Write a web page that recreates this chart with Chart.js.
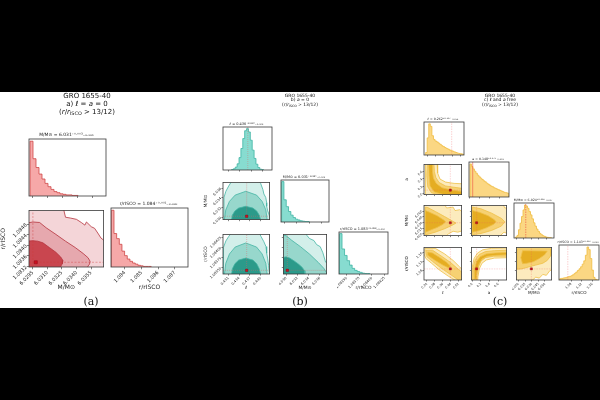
<!DOCTYPE html>
<html><head><meta charset="utf-8">
<script src="https://cdn.jsdelivr.net/npm/chart.js@4.4.1/dist/chart.umd.min.js"></script>
<style>
html,body{margin:0;padding:0;background:#000;}
body{position:relative;width:600px;height:400px;overflow:hidden;}
#paper{position:absolute;left:0;top:92px;width:600px;height:216px;background:#fff;}
canvas{position:absolute;}
.t,.cap{-webkit-font-smoothing:antialiased;filter:grayscale(1);}
.t{position:absolute;font-family:'DejaVu Sans',sans-serif;color:#111;white-space:nowrap;transform:translateX(-50%);line-height:1;}
.cap{position:absolute;font-family:'DejaVu Serif',serif;color:#111;white-space:nowrap;transform:translateX(-50%);line-height:1;font-size:11px;}
sub{font-size:70%;vertical-align:-0.2em;line-height:0;}
</style></head>
<body>
<div id="paper"></div>
<div class="t" style="left:87px;top:93px;font-size:7px">GRO 1655-40</div>
<div class="t" style="left:87px;top:101px;font-size:7px">a) <i>ℓ</i> = <i>a</i> = 0</div>
<div class="t" style="left:87px;top:109px;font-size:7px">(<i>r</i>/<i>r</i><sub>ISCO</sub> &gt; 13/12)</div>
<div class="t" style="left:300px;top:93.5px;font-size:4.5px">GRO 1655-40</div>
<div class="t" style="left:300px;top:98px;font-size:4.5px">b) <i>a</i> = 0</div>
<div class="t" style="left:300px;top:102.5px;font-size:4.5px">(<i>r</i>/<i>r</i><sub>ISCO</sub> &gt; 13/12)</div>
<div class="t" style="left:500px;top:93.5px;font-size:4.5px">GRO 1655-40</div>
<div class="t" style="left:500px;top:98px;font-size:4.5px">c) <i>ℓ</i> and <i>a</i> free</div>
<div class="t" style="left:500px;top:102.5px;font-size:4.5px">(<i>r</i>/<i>r</i><sub>ISCO</sub> &gt; 13/12)</div>
<div class="cap" style="left:91px;top:296px">(a)</div>
<div class="cap" style="left:300px;top:296px">(b)</div>
<div class="cap" style="left:500px;top:296px">(c)</div>
<script>
// ================= DATA =================
// ---- Panel (a): l = a = 0 ----
const aM_range = [6.0291, 6.0368];
const aR_range = [1.08318, 1.08533];
const aRh_range = [1.08316, 1.0878];
const aM_ticks = [6.0295, 6.0310, 6.0325, 6.0340, 6.0355];
const aR_ticks = [1.0832, 1.0836, 1.0840, 1.0844, 1.0848];
const aRh_ticks = [1.084, 1.085, 1.086, 1.087];
const aM_binStart = 6.0292, aM_binWidth = 0.0003;
const aM_counts = [100, 68, 52, 40, 31, 23, 17, 12, 8, 6, 4, 3, 2, 2, 1, 1];
const aR_binStart = 1.08318, aR_binWidth = 0.00016;
const aR_counts = [100, 59, 50, 40, 28, 20, 14, 10, 7, 5, 3, 2, 1, 1, 1];
const aMR_outer = [[6.0327,1.0855],[6.0327,1.08533],[6.03287,1.08507],[6.03337,1.08504],[6.0340,1.08499],[6.0345,1.08487],[6.03487,1.08477],[6.03503,1.08489],[6.03553,1.08471],[6.03587,1.08465],[6.0362,1.08447],[6.03653,1.08428],[6.0368,1.0842],[6.0372,1.0842],[6.0372,1.0830],[6.0288,1.0830],[6.0288,1.0855]];
const aMR_mid = [[6.0289,1.08485],[6.0295,1.08489],[6.0302,1.08487],[6.03087,1.08467],[6.03187,1.08442],[6.03287,1.08416],[6.03387,1.08392],[6.0347,1.08369],[6.0352,1.08353],[6.0354,1.0834],[6.03535,1.08329],[6.0352,1.08322],[6.0350,1.0830],[6.0289,1.0830]];
const aMR_inner = [[6.0289,1.08416],[6.0295,1.08418],[6.0300,1.08416],[6.03053,1.0841],[6.0312,1.08392],[6.03187,1.08374],[6.03237,1.08356],[6.0326,1.08343],[6.03255,1.08331],[6.0324,1.08322],[6.0322,1.0830],[6.0289,1.0830]];
const aTruth = [6.0295, 1.08336];
const aBest = [6.0298, 1.08336];

// ---- Panel (b): a = 0 ----
const bL_range = [0.4295, 0.4425];
const bM_range = [6.0295, 6.0372];
const bR_range = [1.08335, 1.08432];
const bL_ticks = [0.431, 0.434, 0.437, 0.440];
const bM_ticks = [6.030, 6.032, 6.034, 6.036];
const bR_ticks = [1.0835, 1.08375, 1.0840, 1.08425];
const bL_binStart = 0.43175, bL_binWidth = 0.0005;
const bL_counts = [1, 3, 7, 15, 30, 52, 76, 95, 100, 92, 72, 48, 28, 14, 6, 2, 1];
const bM_binStart = 6.0296, bM_binWidth = 0.00037;
const bM_counts = [100, 55, 38, 26, 17, 11, 7, 5, 3, 2, 1, 1];
const bR_binStart = 1.08336, bR_binWidth = 0.00005;
const bR_counts = [100, 62, 46, 33, 22, 14, 9, 6, 4, 2, 1, 1];
const bLM_outer = [[0.42977,6.0289],[0.42977,6.03408],[0.4303,6.03536],[0.43109,6.03645],[0.43189,6.0374],[0.43957,6.0374],[0.4400,6.037],[0.44063,6.03572],[0.4409,6.03481],[0.44143,6.03408],[0.44169,6.03298],[0.44169,6.03225],[0.44196,6.03133],[0.44241,6.03042],[0.4427,6.0295],[0.4427,6.0289]];
const bLM_mid = [[0.44182,6.0295],[0.44145,6.0315],[0.44042,6.03327],[0.43886,6.03457],[0.43586,6.03536],[0.43289,6.03457],[0.4313,6.03327],[0.43027,6.0315],[0.4299,6.0295],[0.4299,6.0289],[0.44182,6.0289]];
const bLM_inner = [[0.4400,6.0295],[0.4396,6.03043],[0.43891,6.03126],[0.43785,6.03188],[0.43586,6.03225],[0.43387,6.03188],[0.43281,6.03126],[0.43212,6.03043],[0.43189,6.0295],[0.43189,6.0289],[0.4400,6.0289]];
const bLR_outer = [[0.42963,1.08328],[0.42963,1.084],[0.4303,1.08416],[0.43109,1.08427],[0.43189,1.08436],[0.43957,1.08436],[0.4401,1.08427],[0.4409,1.08414],[0.4415,1.08402],[0.44169,1.08386],[0.44196,1.08372],[0.44222,1.08356],[0.44241,1.0834],[0.4427,1.08335],[0.4427,1.08328]];
const bLR_mid = [[0.44182,1.08335],[0.44145,1.08361],[0.44042,1.08384],[0.43886,1.08401],[0.43586,1.08411],[0.43289,1.08401],[0.4313,1.08384],[0.43027,1.08361],[0.4299,1.08335],[0.4299,1.08328],[0.44182,1.08328]];
const bLR_inner = [[0.4400,1.08335],[0.4396,1.08348],[0.43891,1.0836],[0.43785,1.08369],[0.43586,1.08374],[0.43387,1.08369],[0.43281,1.0836],[0.43212,1.08348],[0.43189,1.08335],[0.43189,1.08328],[0.4400,1.08328]];
const bMR_outer = [[6.0335,1.0844],[6.03366,1.0843],[6.03414,1.08422],[6.03494,1.08417],[6.03542,1.08407],[6.03606,1.08402],[6.03654,1.08387],[6.03702,1.08364],[6.0375,1.08363],[6.0375,1.08328],[6.0291,1.08328],[6.0291,1.0844]];
const bMR_mid = [[6.02918,1.0843],[6.02998,1.08429],[6.03094,1.08418],[6.03254,1.08402],[6.03414,1.08384],[6.03574,1.08363],[6.0367,1.08349],[6.0371,1.0834],[6.0374,1.08335],[6.0374,1.08328],[6.02918,1.08328]];
const bMR_inner = [[6.02918,1.08375],[6.02998,1.08377],[6.03062,1.08374],[6.03142,1.08367],[6.03222,1.08359],[6.03286,1.08351],[6.03326,1.08343],[6.03334,1.08335],[6.03334,1.08328],[6.02918,1.08328]];
const bTruth = [0.4361, 6.0302, 1.08344];

// ---- Panel (c): l and a free ----
const cL_range = [0.17, 0.55];
const cA_range = [-0.02, 0.79];
const cM_range = [5.995, 6.075];
const cR_range = [1.035, 1.185];
const cL_ticks = [0.20, 0.28, 0.36, 0.44, 0.52];
const cA_ticks = [0.0, 0.2, 0.4, 0.6];
const cM_ticks = [6.000, 6.015, 6.030, 6.045, 6.060];
const cR_ticks = [1.08, 1.12, 1.16];
const cL_binStart = 0.185, cL_binWidth = 0.015;
const cL_counts = [8, 55, 100, 92, 62, 50, 45, 42, 38, 34, 30, 27, 24, 21, 19, 16, 14, 12, 10, 8, 6, 5, 4, 3];
const cA_binStart = 0.0, cA_binWidth = 0.03;
const cA_counts = [100, 92, 85, 78, 72, 66, 61, 57, 53, 49, 46, 42, 39, 36, 33, 31, 28, 26, 24, 22, 20, 18, 16, 14, 13, 12];
const cM_binStart = 5.998, cM_binWidth = 0.003;
const cM_counts = [3, 8, 25, 45, 65, 85, 100, 97, 90, 80, 70, 58, 46, 36, 27, 20, 14, 10, 7, 5, 3, 2, 1, 1];
const cR_binStart = 1.038, cR_binWidth = 0.006;
const cR_counts = [4, 5, 6, 7, 8, 10, 11, 13, 16, 20, 24, 29, 34, 40, 48, 58, 75, 100, 92, 65, 30, 8, 2, 0];
const cLA_outer = [[0.18425,0.8362],[0.303,0.8362],[0.30775,0.5585],[0.3315,0.3965],[0.3885,0.3155],[0.474,0.2808],[0.569,0.2693],[0.569,-0.066],[0.18425,-0.066]];
const cLA_mid = [[0.20325,0.8362],[0.26975,0.8362],[0.2745,0.6048],[0.28875,0.4428],[0.322,0.304],[0.3885,0.2114],[0.474,0.1767],[0.569,0.142],[0.569,-0.02],[0.322,-0.02],[0.246,0.0263],[0.208,0.1883],[0.1985,0.4891]];
const cLA_inner = [[0.2175,0.8362],[0.2555,0.8362],[0.2555,0.6048],[0.265,0.4197],[0.2935,0.2808],[0.3505,0.1651],[0.436,0.1073],[0.531,0.0726],[0.569,0.061],[0.569,-0.02],[0.3695,-0.02],[0.2745,0.0494],[0.23175,0.2114],[0.22225,0.4891]];
const cLM_outer = [[0.165,6.0773],[0.379,6.0773],[0.398,6.0682],[0.4645,6.0704],[0.4835,6.0613],[0.531,6.0636],[0.569,6.0544],[0.569,6.0087],[0.512,6.0041],[0.4645,6.0064],[0.417,5.9996],[0.379,5.9904],[0.165,5.9904]];
const cLM_mid = [[0.18425,6.0704],[0.208,6.0693],[0.284,6.059],[0.379,6.0453],[0.455,6.0339],[0.493,6.0281],[0.455,6.0224],[0.379,6.0133],[0.284,6.0041],[0.208,5.9984],[0.18425,5.9973]];
const cLM_inner = [[0.18425,6.0613],[0.227,6.0567],[0.303,6.0476],[0.3695,6.0361],[0.3885,6.0316],[0.36,6.0247],[0.303,6.0167],[0.227,6.0087],[0.18425,6.0041]];
const cAM_outer = [[-0.04,6.0773],[0.709,6.0773],[0.7495,6.0682],[0.83,6.0682],[0.83,5.9996],[0.72925,6.0041],[0.60775,5.9904],[-0.04,5.9904]];
const cAM_mid = [[0.0,6.0704],[0.20275,6.0659],[0.44575,6.0544],[0.6685,6.0407],[0.7495,6.0316],[0.6685,6.0201],[0.44575,6.0087],[0.20275,6.0007],[0.0,5.9973]];
const cAM_inner = [[0.0,6.0613],[0.16225,6.0567],[0.36475,6.0476],[0.5065,6.0373],[0.547,6.0316],[0.48625,6.0247],[0.32425,6.0156],[0.142,6.0076],[0.0,6.0041]];
const cLR_outer = [[0.1795,1.1807],[0.284,1.1807],[0.379,1.155],[0.4645,1.125],[0.531,1.095],[0.569,1.0779],[0.569,1.0264],[0.512,1.0264],[0.417,1.0521],[0.322,1.0821],[0.246,1.1121],[0.189,1.1336],[0.17475,1.1507]];
const cLR_mid = [[0.189,1.1722],[0.2555,1.1722],[0.341,1.1464],[0.436,1.1164],[0.512,1.0864],[0.569,1.065],[0.569,1.0307],[0.531,1.0307],[0.436,1.0607],[0.341,1.0907],[0.2555,1.1207],[0.1985,1.1422]];
const cLR_inner = [[0.208,1.1636],[0.2555,1.1593],[0.3315,1.1379],[0.398,1.1164],[0.436,1.0993],[0.417,1.0907],[0.36,1.1036],[0.284,1.125],[0.227,1.1422],[0.20325,1.1507]];
const cAR_outer = [[-0.01,1.0264],[0.00025,1.095],[0.04075,1.1336],[0.1218,1.1593],[0.2433,1.1743],[0.4458,1.1807],[0.8305,1.1829],[0.8305,1.1379],[0.5065,1.1357],[0.3243,1.1271],[0.223,1.1121],[0.1623,1.0864],[0.1319,1.0521],[0.1218,1.0264]];
const cAR_mid = [[0.0104,1.0264],[0.0205,1.095],[0.0711,1.1293],[0.1623,1.1529],[0.304,1.1657],[0.5065,1.17],[0.8305,1.1722],[0.8305,1.1443],[0.4863,1.1443],[0.304,1.1379],[0.2028,1.1229],[0.142,1.095],[0.1116,1.0607],[0.1015,1.0264]];
const cAR_inner = [[0.04075,1.0393],[0.0509,1.0864],[0.1015,1.1207],[0.1825,1.1422],[0.3243,1.155],[0.5268,1.1593],[0.79,1.1614],[0.79,1.1507],[0.5268,1.1486],[0.3445,1.1443],[0.223,1.1314],[0.1521,1.1079],[0.1116,1.0779],[0.0914,1.0393]];
const cMR_outer = [[5.991,1.1936],[6.079,1.1936],[6.079,1.0864],[6.071,1.0779],[6.063,1.0564],[6.055,1.0607],[6.047,1.0436],[6.039,1.0479],[6.027,1.0264],[5.991,1.0264]];
const cMR_mid = [[5.997,1.1786],[6.073,1.1786],[6.073,1.1464],[6.065,1.125],[6.055,1.1121],[6.039,1.1036],[6.023,1.095],[6.007,1.0864],[5.997,1.0843]];
const cMR_inner = [[6.009,1.17],[6.065,1.1679],[6.059,1.1507],[6.047,1.1336],[6.033,1.1186],[6.019,1.1121],[6.009,1.11],[6.005,1.1379]];
const cTruth = [0.436, 0.1, 6.029, 1.086];
const cHistMark = [0.433, 0.055, 6.0185, 1.068];

// ================= STYLE / HELPERS =================
const FONT = 'DejaVu Sans';
const HR = [0, 104];
const A_C = {out:'#f4d5d8', mid:'#e6a8ae', inn:'#c9464f', edge:'#b5343e', hist:'rgba(240,110,110,0.6)', hedge:'#cf4646', line:'rgba(205,60,60,0.6)'};
const B_C = {out:'#d3efea', mid:'#97d7cc', inn:'#2b9a8a', edge:'#45b5a5', hist:'rgba(95,208,192,0.75)', hedge:'#3db4a3', line:'rgba(225,95,95,0.55)'};
const C_C = {out:'#fcebbd', mid:'#f6d173', inn:'#e5ad22', edge:'#efc048', hist:'rgba(250,205,100,0.8)', hedge:'#f0bc40', line:'rgba(240,90,90,0.35)', hline:'rgba(235,70,60,0.7)'};

const frame = {id:'frame', afterDatasetsDraw(c){const a=c.chartArea, x=c.ctx; x.save(); x.strokeStyle='#3a3a3a'; x.lineWidth=0.8; x.strokeRect(a.left,a.top,a.right-a.left,a.bottom-a.top); x.restore();}};
const fmt = (arr,d) => arr.map(v => v.toFixed(d));
function poly(arr, C, key){ const p = arr.map(q => ({x:q[0], y:q[1]})); p.push({x:arr[0][0], y:arr[0][1]}); return {data:p, fill:'shape', backgroundColor:C[key], borderColor:C.edge, borderWidth:0.8, pointRadius:0, clip:0}; }
function contours(o, m, i, C){ return [poly(i,C,'inn'), poly(m,C,'mid'), poly(o,C,'out')]; }
function hist(start, width, counts, C){ const p=[{x:start,y:0}]; counts.forEach((c,k)=>p.push({x:start+k*width,y:c})); p.push({x:start+counts.length*width,y:0}); return {data:p, stepped:true, fill:'origin', backgroundColor:C.hist, borderColor:C.hedge, borderWidth:0.8, pointRadius:0, clip:0}; }
function vline(x, r, col, dash, lw){ return {data:[{x:x,y:r[0]},{x:x,y:r[1]}], borderColor:col, borderWidth:lw||0.7, borderDash:dash||[], pointRadius:0, fill:false, clip:0}; }
function hline(y, r, col, dash, lw){ return {data:[{x:r[0],y:y},{x:r[1],y:y}], borderColor:col, borderWidth:lw||0.7, borderDash:dash||[], pointRadius:0, fill:false, clip:0}; }
function star(x, y, rad){ return {data:[{x:x,y:y}], showLine:false, pointStyle:'rect', pointRadius:rad, backgroundColor:'#cc1020', borderColor:'#800010', borderWidth:0.4, clip:0}; }

function axis(range, ticks, labels, show, title, fs, size, isX, marks){
  return {type:'linear', min:range[0], max:range[1],
    afterBuildTicks: s => { s.ticks = (ticks||[]).map(v => ({value:v})); },
    ticks:{display:!!show, autoSkip:false, minRotation:45, maxRotation:45, padding:0.5, color:'#222', font:{family:FONT, size:fs}, callback:(v,k)=> labels ? labels[k] : ''},
    grid:{display:marks!==false, drawOnChartArea:false, drawTicks:true, tickLength:Math.max(1.5, fs*0.45), color:'#333', lineWidth:0.6},
    border:{display:false},
    title:{display:!!title, text:title||'', color:'#222', font:{family:FONT, size:fs+1}, padding:0},
    afterFit: s => { if (isX) s.height = size; else s.width = size; s.paddingLeft=0; s.paddingRight=0; s.paddingTop=0; s.paddingBottom=0; }
  };
}

function panel(o){
  const L=o.L||2, R=o.R||2, T=o.T||2, B=o.B||2;
  const W=o.w+L+R, H=o.h+T+B;
  const cv=document.createElement('canvas');
  cv.width=W; cv.height=H;
  cv.style.left=(o.x-L)+'px'; cv.style.top=(o.y-T)+'px'; cv.style.width=W+'px'; cv.style.height=H+'px';
  document.body.appendChild(cv);
  const tfs=o.tfs||o.fs;
  new Chart(cv, {type:'line', data:{datasets:o.ds}, options:{
    responsive:false, animation:false, devicePixelRatio:1, events:[],
    layout:{padding:{left:0, right:R, top:o.title?0:T, bottom:0}},
    plugins:{legend:{display:false}, tooltip:{enabled:false},
      title:{display:!!o.title, text:o.title||'', color:'#222', font:{family:FONT, size:tfs, weight:'normal', lineHeight:1}, padding:{top:Math.max(0,T-tfs-1.5), bottom:1.5}}},
    scales:{
      x: axis(o.xr, o.xt, o.xl, o.sx, o.xTitle, o.fs, B, true, true),
      y: axis(o.yr, o.yt, o.yl, o.sy, o.yTitle, o.fs, L, false, o.yt ? true : false)
    }
  }, plugins:[frame]});
}

const RISCO = 'r/rISCO';
const MSUN = 'M/M⊙';

// ================= PANEL (a) =================
panel({x:29, y:139, w:77, h:57, T:9, fs:5, tfs:4.5, title:MSUN+' = 6.031⁺⁰·⁰⁰³₋₀.₀₀₁',
  xr:aM_range, xt:aM_ticks, yr:HR,
  ds:[hist(aM_binStart, aM_binWidth, aM_counts, A_C)]});
panel({x:29, y:208, w:77, h:59, L:29, B:24, fs:5, xTitle:MSUN, yTitle:RISCO,
  xr:aM_range, xt:aM_ticks, xl:fmt(aM_ticks,4), sx:true,
  yr:aR_range, yt:aR_ticks, yl:fmt(aR_ticks,4), sy:true,
  ds:[star(aBest[0], aBest[1], 2.2), vline(aTruth[0], aR_range, A_C.line, [2,1.5]), hline(aTruth[1], aM_range, A_C.line, [2,1.5])]
     .concat(contours(aMR_outer, aMR_mid, aMR_inner, A_C))});
panel({x:111, y:208, w:77, h:59, T:9, B:24, R:6, fs:5, tfs:4.5, title:RISCO+' = 1.084⁺⁰·⁰⁰¹₋₀.₀₀₀', xTitle:RISCO,
  xr:aRh_range, xt:aRh_ticks, xl:fmt(aRh_ticks,3), sx:true, yr:HR,
  ds:[hist(aR_binStart, aR_binWidth, aR_counts, A_C)]});

// ================= PANEL (b) =================
const bfs = 3.5;
panel({x:223, y:127, w:49, h:43, T:8, fs:bfs, title:'ℓ = 0.436⁺⁰·⁰⁰²₋₀.₀₀₂',
  xr:bL_range, xt:bL_ticks, yr:HR,
  ds:[vline(bTruth[0], HR, B_C.line, [1,1]), hist(bL_binStart, bL_binWidth, bL_counts, B_C)]});
panel({x:223, y:180, w:49, h:42, L:20, fs:bfs, yTitle:MSUN,
  xr:bL_range, xt:bL_ticks, yr:bM_range, yt:bM_ticks, yl:fmt(bM_ticks,3), sy:true,
  ds:[star(bTruth[0], bTruth[1], 1.7), vline(bTruth[0], bM_range, B_C.line, [1,1]), hline(bTruth[1], bL_range, B_C.line, [1,1])]
     .concat(contours(bLM_outer, bLM_mid, bLM_inner, B_C))});
panel({x:281, y:180, w:48, h:42, T:8, fs:bfs, title:MSUN+' = 6.031⁺⁰·⁰⁰¹₋₀.₀₀₁',
  xr:bM_range, xt:bM_ticks, yr:HR,
  ds:[hist(bM_binStart, bM_binWidth, bM_counts, B_C)]});
panel({x:223, y:232, w:49, h:42, L:20, B:17, fs:bfs, xTitle:'ℓ', yTitle:RISCO,
  xr:bL_range, xt:bL_ticks, xl:fmt(bL_ticks,3), sx:true, yr:bR_range, yt:bR_ticks, yl:fmt(bR_ticks,5), sy:true,
  ds:[star(bTruth[0], bTruth[2], 1.7), vline(bTruth[0], bR_range, B_C.line, [1,1]), hline(bTruth[2], bL_range, B_C.line, [1,1])]
     .concat(contours(bLR_outer, bLR_mid, bLR_inner, B_C))});
panel({x:281, y:232, w:48, h:42, B:17, fs:bfs, xTitle:MSUN,
  xr:bM_range, xt:bM_ticks, xl:fmt(bM_ticks,3), sx:true, yr:bR_range, yt:bR_ticks,
  ds:[star(bTruth[1], bTruth[2], 1.7), vline(bTruth[1], bR_range, B_C.line, [1,1]), hline(bTruth[2], bM_range, B_C.line, [1,1])]
     .concat(contours(bMR_outer, bMR_mid, bMR_inner, B_C))});
panel({x:339, y:232, w:49, h:42, T:8, B:17, fs:bfs, title:RISCO+' = 1.083⁺⁰·⁰⁰⁰₋₀.₀₀₀', xTitle:RISCO,
  xr:bR_range, xt:bR_ticks, xl:fmt(bR_ticks,5), sx:true, yr:HR,
  ds:[hist(bR_binStart, bR_binWidth, bR_counts, B_C)]});

// ================= PANEL (c) =================
const cfs = 3.2;
const CH = [0, 106];
panel({x:424, y:122, w:40, h:33, T:7, fs:cfs, title:'ℓ = 0.262⁺⁰·¹⁰⁷₋₀.₀₅₃',
  xr:cL_range, xt:cL_ticks, yr:CH,
  ds:[vline(cHistMark[0], CH, C_C.line, [1.5,1], 0.8), hist(cL_binStart, cL_binWidth, cL_counts, C_C)]});
panel({x:424, y:162, w:40, h:35, L:20, fs:cfs, yTitle:'a',
  xr:cL_range, xt:cL_ticks, yr:cA_range, yt:cA_ticks, yl:fmt(cA_ticks,1), sy:true,
  ds:[star(cTruth[0], cTruth[1], 1.5), vline(cTruth[0], cA_range, C_C.line, [1.5,1]), hline(cTruth[1], cL_range, C_C.line, [1.5,1])]
     .concat(contours(cLA_outer, cLA_mid, cLA_inner, C_C))});
panel({x:469, y:162, w:40, h:35, T:7, fs:cfs, title:'a = 0.148⁺⁰·²⁷³₋₀.₁₁₂',
  xr:cA_range, xt:cA_ticks, yr:CH,
  ds:[vline(cHistMark[1], CH, C_C.hline, [], 0.8), hist(cA_binStart, cA_binWidth, cA_counts, C_C)]});
panel({x:424, y:203, w:40, h:35, L:20, fs:cfs, yTitle:MSUN,
  xr:cL_range, xt:cL_ticks, yr:cM_range, yt:cM_ticks, yl:fmt(cM_ticks,3), sy:true,
  ds:[star(cTruth[0], cTruth[2], 1.5), vline(cTruth[0], cM_range, C_C.line, [1.5,1]), hline(cTruth[2], cL_range, C_C.line, [1.5,1])]
     .concat(contours(cLM_outer, cLM_mid, cLM_inner, C_C))});
panel({x:469, y:203, w:40, h:35, fs:cfs,
  xr:cA_range, xt:cA_ticks, yr:cM_range, yt:cM_ticks,
  ds:[star(cTruth[1], cTruth[2], 1.5), vline(cTruth[1], cM_range, C_C.line, [1.5,1]), hline(cTruth[2], cA_range, C_C.line, [1.5,1])]
     .concat(contours(cAM_outer, cAM_mid, cAM_inner, C_C))});
panel({x:514, y:203, w:40, h:35, T:7, fs:cfs, title:MSUN+' = 6.024⁺⁰·⁰⁰⁹₋₀.₀₀₇',
  xr:cM_range, xt:cM_ticks, yr:CH,
  ds:[vline(cHistMark[2], CH, C_C.hline, [1.5,1], 0.8), hist(cM_binStart, cM_binWidth, cM_counts, C_C)]});
panel({x:424, y:245, w:40, h:35, L:20, B:15, fs:cfs, xTitle:'ℓ', yTitle:RISCO,
  xr:cL_range, xt:cL_ticks, xl:fmt(cL_ticks,2), sx:true, yr:cR_range, yt:cR_ticks, yl:fmt(cR_ticks,2), sy:true,
  ds:[star(cTruth[0], cTruth[3], 1.5), vline(cTruth[0], cR_range, C_C.line, [1.5,1]), hline(cTruth[3], cL_range, C_C.line, [1.5,1])]
     .concat(contours(cLR_outer, cLR_mid, cLR_inner, C_C))});
panel({x:469, y:245, w:40, h:35, B:15, fs:cfs, xTitle:'a',
  xr:cA_range, xt:cA_ticks, xl:fmt(cA_ticks,1), sx:true, yr:cR_range, yt:cR_ticks,
  ds:[star(cTruth[1], cTruth[3], 1.5), vline(cTruth[1], cR_range, C_C.line, [1.5,1]), hline(cTruth[3], cA_range, C_C.line, [1.5,1])]
     .concat(contours(cAR_outer, cAR_mid, cAR_inner, C_C))});
panel({x:514, y:245, w:40, h:35, B:15, fs:cfs, xTitle:MSUN,
  xr:cM_range, xt:cM_ticks, xl:fmt(cM_ticks,3), sx:true, yr:cR_range, yt:cR_ticks,
  ds:[star(cTruth[2], cTruth[3], 1.5), vline(cTruth[2], cR_range, C_C.line, [1.5,1]), hline(cTruth[3], cM_range, C_C.line, [1.5,1])]
     .concat(contours(cMR_outer, cMR_mid, cMR_inner, C_C))});
panel({x:559, y:245, w:40, h:35, T:7, B:15, R:1, fs:cfs, title:RISCO+' = 1.143⁺⁰·⁰¹²₋₀.₀₂₉', xTitle:RISCO,
  xr:cR_range, xt:cR_ticks, xl:fmt(cR_ticks,2), sx:true, yr:CH,
  ds:[vline(cHistMark[3], CH, C_C.line, [1.5,1], 0.8), hist(cR_binStart, cR_binWidth, cR_counts, C_C)]});
</script>
</body></html>
